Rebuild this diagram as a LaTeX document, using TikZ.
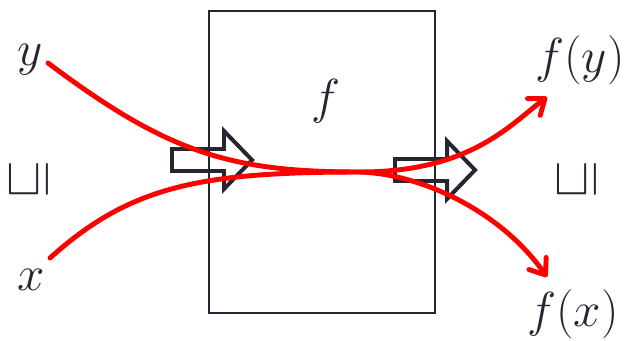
\documentclass[tikz,border=0pt]{standalone}
\usepackage{fix-cm}
\usetikzlibrary{arrows.meta}
\definecolor{inkdark}{RGB}{38,38,50}
\definecolor{flowred}{RGB}{255,0,0}

\begin{document}
\begin{tikzpicture}[x=0.03cm, y=-0.03cm,
  %% styles
  lbl/.style={font=\fontsize{42}{48}\selectfont, text=inkdark,
              inner sep=0pt, anchor=base},
  ordlbl/.style={font=\fontsize{43}{50}\selectfont, text=inkdark,
                 inner sep=0pt, rotate=90},
  funcbox/.style={rectangle, draw=inkdark, line width=1.2pt,
                  minimum width=6.78cm, minimum height=9.06cm, inner sep=0pt},
  blockarr/.style={draw=inkdark, line width=3.4pt, line join=miter},
  flow/.style={draw=flowred, line width=4.2pt, line cap=round,
               -{Straight Barb[length=12pt,width=18pt,round]}},
]
\useasboundingbox (0,0) rectangle (627,340);

%% the function box
\node[funcbox] (fbox) at (322,162) {};
\node[lbl] (fname) at (326,113) {$f$};

%% inputs, outputs and order signs
\node[lbl] (yin) at (30,65) {$y$};
\node[lbl] (xin) at (31,290) {$x$};
\node[lbl] (fy) at (580,72) {$f(y)$};
\node[lbl] (fx) at (573,326) {$f(x)$};
\node[ordlbl] (leftord) at (29,180) {$\sqsubseteq$};
\node[ordlbl] (rightord) at (577,180) {$\sqsubseteq$};

%% ------ block arrows (in / out) ---------------------------------------
\coordinate (inarr) at (172,160);
\coordinate (outarr) at (395,170);
\draw[blockarr] (inarr) ++(0,-11) -- ++(52,0) -- ++(0,-18) -- ++(28,29)
  -- ++(-28,29) -- ++(0,-18) -- ++(-52,0) -- cycle;
\draw[blockarr] (outarr) ++(0,-11) -- ++(52,0) -- ++(0,-18) -- ++(28,29)
  -- ++(-28,29) -- ++(0,-18) -- ++(-52,0) -- cycle;

%% ------ red flows ------------------------------------------------------
\coordinate (ystart) at (48,63);
\coordinate (xstart) at (50,258);
\coordinate (merge) at (360,172);
\coordinate (fyend) at (547,97);
\coordinate (fxend) at (547,277);

%% y -> f(x)
\draw[flow] (ystart) .. controls (168,153) and (230,172) .. (merge)
  .. controls (420,174) and (500,210) .. (fxend);
%% x -> f(y)
\draw[flow] (xstart) .. controls (130,186) and (200,172) .. (merge)
  .. controls (470,172) and (510,125) .. (fyend);

\end{tikzpicture}
\end{document}
